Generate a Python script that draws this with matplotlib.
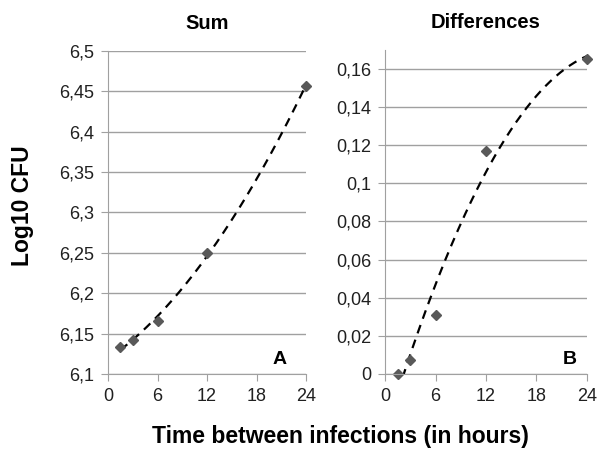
import numpy as np
import matplotlib
matplotlib.use("Agg")
import matplotlib.pyplot as plt
from matplotlib.ticker import MultipleLocator, FuncFormatter

plt.rcParams['font.family'] = ['Liberation Sans', 'DejaVu Sans']

hours = [1.5, 3, 6, 12, 24]
sum_cfu = [6.133, 6.142, 6.165, 6.250, 6.457]
diff_cfu = [0.000, 0.0075, 0.031, 0.117, 0.165]

comma = FuncFormatter(lambda v, p: ('%g' % round(v, 3)).replace('.', ','))


def style(ax):
    for s in ['top', 'right']:
        ax.spines[s].set_visible(False)
    for s in ['left', 'bottom']:
        ax.spines[s].set_color('#a0a0a0')
    ax.tick_params(colors='#a0a0a0', labelcolor='#202020', labelsize=13, length=5, pad=5)
    ax.yaxis.grid(True, color='#a0a0a0', linewidth=1)
    ax.set_axisbelow(True)
    ax.set_xlim(0, 24)
    ax.xaxis.set_major_locator(MultipleLocator(6))
    ax.yaxis.set_major_formatter(comma)


fig = plt.figure(figsize=(6, 4.5), dpi=100)
ax1 = fig.add_axes([0.18, 0.169, 0.33, 0.718])
ax2 = fig.add_axes([0.642, 0.169, 0.336, 0.72])

# Sum panel (2nd order trend)
style(ax1)
ax1.set_ylim(6.1, 6.5)
ax1.yaxis.set_major_locator(MultipleLocator(0.05))
c1 = np.polyfit(hours, sum_cfu, 2)
xs = np.linspace(hours[0], hours[-1], 200)
ax1.plot(xs, np.polyval(c1, xs), color='black', linestyle=(0, (4, 3)), linewidth=1.6)
ax1.plot(hours, sum_cfu, 'D', color='#595959', markersize=5.5, clip_on=False)
ax1.set_title('Sum', fontsize=14.5, fontweight='bold', pad=16)
ax1.text(0.83, 0.03, 'A', transform=ax1.transAxes, fontsize=14, fontweight='bold')

# Differences panel (2nd order trend)
style(ax2)
ax2.set_ylim(0, 0.17)
ax2.yaxis.set_major_locator(MultipleLocator(0.02))
c2 = np.polyfit(hours, diff_cfu, 2)
ax2.plot(xs, np.polyval(c2, xs), color='black', linestyle=(0, (4, 3)), linewidth=1.6)
ax2.plot(hours, diff_cfu, 'D', color='#595959', markersize=5.5, clip_on=False)
ax2.set_title('Differences', fontsize=14.5, fontweight='bold', pad=16)
ax2.text(0.88, 0.03, 'B', transform=ax2.transAxes, fontsize=14, fontweight='bold')

fig.text(0.037, 0.544, 'Log10 CFU', rotation=90, ha='center', va='center',
         fontsize=16.5, fontweight='bold')
fig.text(0.568, 0.03, 'Time between infections (in hours)', ha='center', va='center',
         fontsize=16.5, fontweight='bold')

fig.savefig('out.png', dpi=100)
